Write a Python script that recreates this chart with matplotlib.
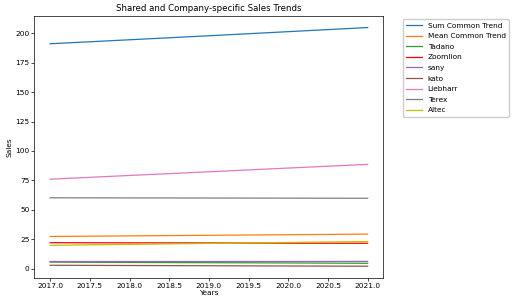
import matplotlib
matplotlib.use("Agg")
import matplotlib.pyplot as plt

years = [2017, 2018, 2019, 2020, 2021]
sum_common = [191.2, 194.6, 198.0, 201.5, 205.0]
mean_common = [27.3, 27.8, 28.3, 28.8, 29.3]
tadano = [5.5, 5.2, 5.0, 4.8, 4.5]
zoomlion = [22.0, 21.9, 21.8, 21.6, 21.5]
sany = [6.0, 6.0, 6.0, 6.0, 6.1]
kato = [2.8, 2.6, 2.4, 2.2, 2.0]
liebharr = [76.0, 79.2, 82.3, 85.5, 88.6]
terex = [60.2, 60.1, 60.0, 59.9, 59.8]
altec = [19.8, 20.6, 21.4, 22.2, 23.0]

series = [
    ("Sum Common Trend", sum_common, "tab:blue"),
    ("Mean Common Trend", mean_common, "tab:orange"),
    ("Tadano", tadano, "tab:green"),
    ("Zoomlion", zoomlion, "red"),
    ("sany", sany, "tab:purple"),
    ("kato", kato, "tab:brown"),
    ("Liebharr", liebharr, "tab:pink"),
    ("Terex", terex, "tab:gray"),
    ("Altec", altec, "y"),
]

fs = 5.3
fig = plt.figure(figsize=(5.12, 3.06), dpi=100)
ax = fig.add_axes([0.067, 0.091, 0.682, 0.858])
for name, vals, c in series:
    ax.plot(years, vals, color=c, label=name, linewidth=0.9)
ax.set_title("Shared and Company-specific Sales Trends", fontsize=6.2, pad=3)
ax.set_xlabel("Years", fontsize=fs, labelpad=1)
ax.set_ylabel("Sales", fontsize=fs, labelpad=2)
ax.tick_params(labelsize=fs, length=2, width=0.5, pad=1.5)
for s in ax.spines.values():
    s.set_linewidth(0.5)
ax.legend(loc="upper left", bbox_to_anchor=(1.045, 1), fontsize=fs,
          handlelength=2.2, handletextpad=0.7, borderpad=0.45,
          labelspacing=0.6, borderaxespad=0.5, framealpha=1,
          edgecolor="#cccccc", fancybox=True)
fig.savefig("out.png", dpi=100)
